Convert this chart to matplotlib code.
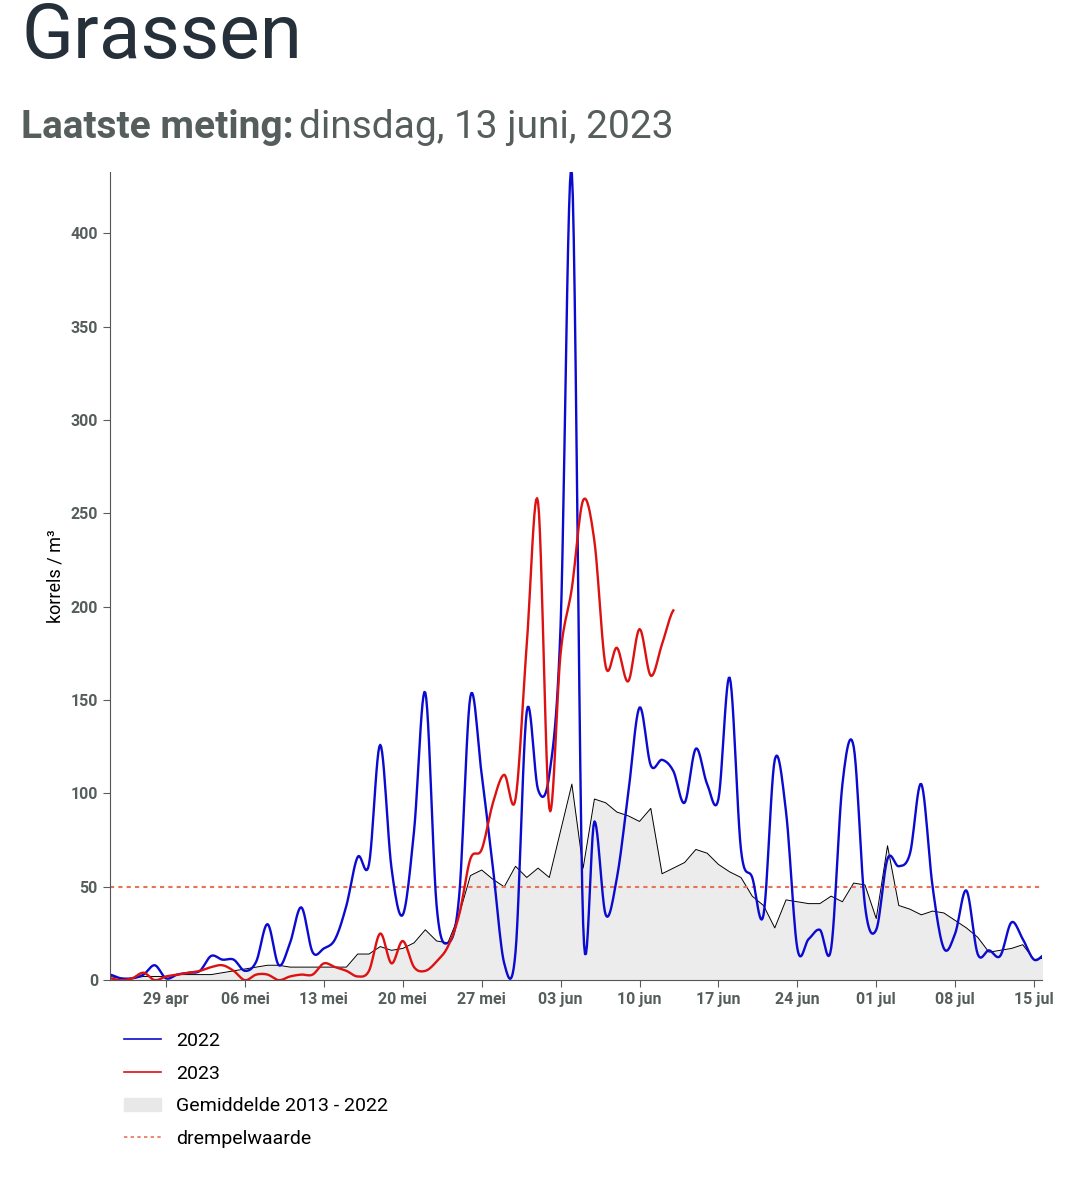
import numpy as np
import pandas as pd
import matplotlib.pyplot as plt
import matplotlib.dates as mdates
from matplotlib.patches import Patch
from matplotlib.lines import Line2D

plt.rcParams['font.family'] = ['Roboto', 'DejaVu Sans']

# dagelijkse waarden vanaf 24 apr
dagen = pd.date_range('2022-04-24', '2022-07-16', freq='D')
y2022 = [3, 1, 1, 3, 8, 1, 3, 4, 5, 13, 11, 11, 5, 10, 30, 8, 20, 39, 15, 17, 22, 40, 66, 62,
         126, 60, 35, 80, 154, 40, 20, 45, 152, 110, 60, 9, 15, 144, 102, 110, 190, 432, 30, 85,
         35, 55, 100, 146, 115, 118, 112, 95, 124, 105, 97, 162, 70, 55, 35, 118, 90, 17, 22, 27,
         17, 105, 125, 40, 27, 65, 61, 68, 105, 50, 17, 25, 48, 14, 16, 13, 31, 22, 11, 14]
y2023 = [1, 0, 1, 4, 0, 2, 3, 4, 5, 7, 8, 5, 0, 3, 3, 0, 2, 3, 3, 9, 7, 5, 2, 5, 25, 9, 21, 7,
         5, 10, 18, 35, 65, 70, 95, 110, 97, 180, 256, 92, 175, 210, 257, 235, 168, 178, 160,
         188, 163, 180, 198]
gemiddeld = [2, 1, 1, 2, 2, 2, 3, 3, 3, 3, 4, 5, 6, 7, 8, 8, 7, 7, 7, 7, 7, 7, 14, 14, 18, 16,
             17, 20, 27, 21, 20, 35, 56, 59, 54, 50, 61, 55, 60, 55, 80, 105, 60, 97, 95, 90, 88,
             85, 92, 57, 60, 63, 70, 68, 62, 58, 55, 45, 40, 28, 43, 42, 41, 41, 45, 42, 52, 51,
             33, 72, 40, 38, 35, 37, 36, 32, 28, 23, 15, 16, 17, 19, 11, 12]
drempel = 50


def glad(x, y, n=12):
    # Catmull-Rom voor een vloeiende lijn (alleen weergave)
    x = np.asarray(x, float); y = np.asarray(y, float)
    p = np.concatenate([[y[0]], y, [y[-1]]])
    xs, ys = [], []
    t = np.linspace(0, 1, n, endpoint=False)
    for i in range(len(y) - 1):
        p0, p1, p2, p3 = p[i], p[i + 1], p[i + 2], p[i + 3]
        v = 0.5 * ((2 * p1) + (-p0 + p2) * t + (2 * p0 - 5 * p1 + 4 * p2 - p3) * t ** 2
                   + (-p0 + 3 * p1 - 3 * p2 + p3) * t ** 3)
        xs.append(x[i] + t * (x[i + 1] - x[i])); ys.append(v)
    xs.append([x[-1]]); ys.append([y[-1]])
    return np.concatenate(xs), np.clip(np.concatenate(ys), 0, None)


xd = mdates.date2num(dagen)
fig = plt.figure(figsize=(10.65, 11.91), dpi=100)
ax = fig.add_axes([0.103, 0.177, 0.875, 0.679])

ax.fill_between(xd[:len(gemiddeld)], gemiddeld, color='#ececec', lw=0)
ax.plot(xd[:len(gemiddeld)], gemiddeld, color='black', lw=0.7)
ax.axhline(drempel, color='#e8735a', ls=(0, (2, 2)), lw=1.5)
gx, gy = glad(xd[:len(y2022)], y2022)
ax.plot(gx, gy, color='#0a0ad0', lw=1.7)
rx, ry = glad(xd[:len(y2023)], y2023)
ax.plot(rx, ry, color='#dd1111', lw=1.7)

ax.set_xlim(mdates.date2num(pd.Timestamp('2022-04-24')), mdates.date2num(pd.Timestamp('2022-07-15 16:00')))
ax.set_ylim(0, 433)
ax.set_yticks(range(0, 401, 50))
tick_dagen = pd.date_range('2022-04-29', '2022-07-15', freq='7D')
ax.set_xticks(mdates.date2num(tick_dagen))
maanden = {4: 'apr', 5: 'mei', 6: 'jun', 7: 'jul'}
ax.set_xticklabels([f"{d.day:02d} {maanden[d.month]}" for d in tick_dagen])
for s in ['top', 'right']:
    ax.spines[s].set_visible(False)
for s in ['left', 'bottom']:
    ax.spines[s].set_color('#555555')
ax.tick_params(colors='#555e5c', labelsize=11.5, length=5)
for lab in ax.get_xticklabels() + ax.get_yticklabels():
    lab.set_fontweight('bold')
ax.set_ylabel('korrels / m³', fontsize=13)

fig.text(0.02, 0.951, 'Grassen', fontsize=55, color='#25303a', va='baseline')
fig.text(0.02, 0.893, 'Laatste meting:', fontsize=28, color='#555e5c', fontweight='bold', va='center')
fig.text(0.281, 0.893, 'dinsdag, 13 juni, 2023', fontsize=28, color='#555e5c', va='center')

handles = [Line2D([], [], color='#0a0ad0', lw=1.2), Line2D([], [], color='#dd1111', lw=1.2),
           Patch(color='#e8e8e8'), Line2D([], [], color='#e8735a', ls=(0, (2, 2)), lw=1.2)]
fig.legend(handles, ['2022', '2023', 'Gemiddelde 2013 - 2022', 'drempelwaarde'],
           loc='upper left', bbox_to_anchor=(0.1, 0.148), frameon=False, fontsize=14,
           handlelength=1.9, labelspacing=0.75)
fig.savefig('out.png', dpi=100)
